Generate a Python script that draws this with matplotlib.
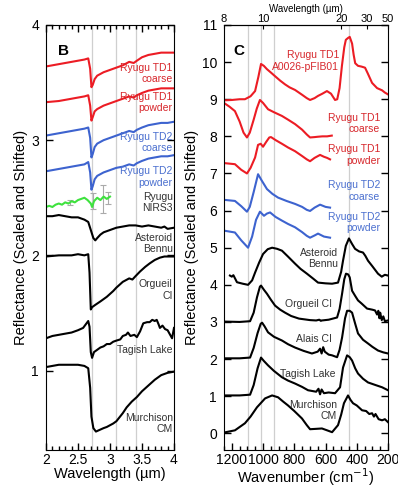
import numpy as np
import matplotlib
matplotlib.use("Agg")
import matplotlib.pyplot as plt
from matplotlib.ticker import MultipleLocator

plt.rcParams['font.family'] = ['Liberation Sans', 'DejaVu Sans']

RED = '#ec1c24'
RED_TXT = '#d7262b'
BLUE = '#3d63cf'
BLUE_TXT = '#4a6fcf'
GREEN = '#3ee23e'
TXT = '#333333'
GRID = '#cfcfcf'

# ---------------- panel B data (wavelength, um) ----------------
b_td1c_x = [2.0, 2.2, 2.4, 2.6, 2.66, 2.69, 2.71, 2.73, 2.76, 2.8, 2.9, 3.0, 3.1, 3.2, 3.3, 3.37, 3.42, 3.5, 3.6, 3.7, 3.8, 3.9, 4.0]
b_td1c_y = [3.64, 3.66, 3.68, 3.70, 3.71, 3.62, 3.46, 3.48, 3.53, 3.56, 3.59, 3.61, 3.63, 3.65, 3.68, 3.67, 3.69, 3.72, 3.74, 3.75, 3.76, 3.76, 3.76]
b_td1p_x = b_td1c_x
b_td1p_y = [3.33, 3.34, 3.36, 3.38, 3.39, 3.30, 3.17, 3.20, 3.25, 3.27, 3.30, 3.32, 3.34, 3.36, 3.38, 3.37, 3.39, 3.41, 3.43, 3.44, 3.45, 3.45, 3.45]
b_td2c_x = b_td1c_x
b_td2c_y = [3.04, 3.06, 3.08, 3.10, 3.11, 3.02, 2.85, 2.88, 2.94, 2.97, 3.00, 3.02, 3.04, 3.06, 3.08, 3.07, 3.09, 3.11, 3.13, 3.14, 3.15, 3.15, 3.16]
b_td2p_x = b_td1c_x
b_td2p_y = [2.73, 2.75, 2.77, 2.79, 2.81, 2.72, 2.57, 2.60, 2.66, 2.69, 2.72, 2.74, 2.76, 2.77, 2.79, 2.78, 2.80, 2.82, 2.84, 2.85, 2.86, 2.86, 2.87]

b_nirs_x = [2.00, 2.05, 2.10, 2.15, 2.20, 2.25, 2.30, 2.35, 2.40, 2.45, 2.50, 2.55, 2.60, 2.65, 2.70, 2.72, 2.75, 2.80, 2.85, 2.90, 2.95, 3.00]
b_nirs_y = [2.42, 2.43, 2.42, 2.44, 2.45, 2.44, 2.46, 2.45, 2.47, 2.46, 2.48, 2.49, 2.50, 2.48, 2.45, 2.42, 2.47, 2.50, 2.48, 2.51, 2.49, 2.51]
b_err_x = [2.38, 2.73, 2.89, 2.97]
b_err_y = [2.46, 2.47, 2.49, 2.50]
b_err = [0.02, 0.07, 0.12, 0.05]

b_bennu_x = [2.0, 2.1, 2.2, 2.3, 2.4, 2.5, 2.6, 2.66, 2.70, 2.74, 2.77, 2.80, 2.85, 2.9, 3.0, 3.1, 3.2, 3.3, 3.4, 3.5, 3.6, 3.7, 3.8, 3.85, 3.9, 4.0]
b_bennu_y = [2.34, 2.34, 2.35, 2.34, 2.33, 2.33, 2.31, 2.29, 2.22, 2.15, 2.13, 2.15, 2.18, 2.20, 2.22, 2.24, 2.25, 2.26, 2.26, 2.25, 2.26, 2.25, 2.24, 2.25, 2.23, 2.24]
b_org_x = [2.0, 2.2, 2.4, 2.5, 2.6, 2.66, 2.68, 2.70, 2.72, 2.77, 2.85, 2.95, 3.05, 3.1, 3.2, 3.3, 3.35, 3.4, 3.47, 3.55, 3.62, 3.7, 3.78, 3.85, 4.0]
b_org_y = [1.99, 2.00, 2.00, 2.01, 2.00, 2.01, 1.85, 1.53, 1.55, 1.57, 1.60, 1.64, 1.69, 1.72, 1.77, 1.80, 1.79, 1.82, 1.86, 1.90, 1.93, 1.96, 1.98, 1.99, 1.99]
b_tag_x = [2.0, 2.1, 2.2, 2.3, 2.4, 2.5, 2.58, 2.62, 2.66, 2.68, 2.70, 2.72, 2.75, 2.8, 2.85, 2.9, 2.95, 3.0, 3.05, 3.1, 3.16, 3.2, 3.25, 3.28, 3.32, 3.38, 3.42, 3.47, 3.52, 3.58, 3.62, 3.66, 3.70, 3.73, 3.76, 3.78, 3.82, 3.86, 3.9, 3.94, 3.97, 4.0]
b_tag_y = [1.28, 1.30, 1.31, 1.32, 1.33, 1.35, 1.37, 1.40, 1.43, 1.38, 1.16, 1.11, 1.16, 1.18, 1.20, 1.21, 1.23, 1.23, 1.25, 1.26, 1.27, 1.30, 1.31, 1.33, 1.30, 1.31, 1.29, 1.34, 1.41, 1.42, 1.42, 1.44, 1.43, 1.44, 1.40, 1.37, 1.39, 1.36, 1.35, 1.31, 1.28, 1.37]
b_mur_x = [2.0, 2.1, 2.2, 2.3, 2.4, 2.5, 2.6, 2.66, 2.69, 2.71, 2.74, 2.78, 2.82, 2.9, 2.95, 3.05, 3.1, 3.2, 3.26, 3.34, 3.42, 3.5, 3.6, 3.7, 3.8, 3.9, 4.0]
b_mur_y = [1.03, 1.04, 1.05, 1.05, 1.05, 1.05, 1.04, 1.02, 0.85, 0.60, 0.50, 0.47, 0.48, 0.50, 0.51, 0.54, 0.56, 0.63, 0.68, 0.73, 0.77, 0.82, 0.87, 0.92, 0.96, 0.98, 0.99]

b_vlines = [2.72, 3.1, 3.4]

# ---------------- panel C data (wavenumber, cm-1) ----------------
c_fib_x = [1250, 1200, 1150, 1116, 1080, 1051, 1030, 1013, 995, 975, 950, 923, 890, 859, 830, 795, 750, 720, 699, 670, 648, 620, 591, 565, 539, 525, 510, 495, 480, 470, 456, 445, 430, 420, 410, 392, 370, 347, 330, 302, 270, 238, 220, 200]
c_fib_y = [8.97, 8.98, 9.0, 9.0, 9.08, 9.22, 9.6, 9.95, 9.9, 9.81, 9.72, 9.62, 9.5, 9.4, 9.32, 9.25, 9.12, 9.03, 8.98, 9.03, 9.09, 9.15, 9.22, 9.15, 8.98, 9.0, 9.3, 9.9, 10.4, 10.6, 10.65, 10.68, 10.5, 10.2, 9.97, 9.9, 9.88, 9.85, 9.7, 9.44, 9.3, 9.24, 9.18, 9.13]
c_td1c_x = [1250, 1215, 1180, 1150, 1125, 1103, 1085, 1060, 1040, 1020, 1000, 968, 930, 879, 840, 795, 750, 720, 699, 670, 648, 620, 590, 560]
c_td1c_y = [8.9, 8.8, 8.68, 8.4, 8.1, 7.97, 8.1, 8.45, 8.75, 8.98, 8.9, 8.73, 8.65, 8.55, 8.45, 8.33, 8.18, 8.05, 7.97, 7.98, 7.99, 8.0, 8.0, 8.02]
c_td1p_x = [1250, 1180, 1140, 1103, 1080, 1051, 1032, 1015, 1000, 980, 960, 949, 920, 879, 840, 795, 750, 720, 699, 670, 635, 610, 590, 571]
c_td1p_y = [7.28, 7.25, 7.1, 7.0, 7.15, 7.43, 7.77, 7.8, 7.72, 7.85, 7.97, 7.98, 7.9, 7.8, 7.7, 7.6, 7.47, 7.38, 7.33, 7.42, 7.5, 7.45, 7.42, 7.38]
c_td2c_x = [1250, 1180, 1140, 1103, 1085, 1060, 1032, 1010, 975, 940, 904, 850, 795, 750, 720, 699, 670, 635, 600, 571]
c_td2c_y = [6.29, 6.26, 6.12, 5.97, 6.1, 6.5, 6.98, 6.82, 6.58, 6.45, 6.35, 6.26, 6.18, 6.1, 6.02, 5.99, 6.08, 6.16, 6.1, 6.08]
c_td2p_x = [1250, 1180, 1140, 1096, 1070, 1045, 1020, 994, 975, 955, 920, 879, 840, 795, 750, 720, 699, 670, 648, 610, 571]
c_td2p_y = [5.46, 5.41, 5.2, 5.0, 5.3, 5.75, 5.97, 5.86, 5.92, 5.95, 5.83, 5.73, 5.64, 5.55, 5.42, 5.32, 5.27, 5.33, 5.38, 5.3, 5.27]

c_bennu_x = [1212, 1200, 1190, 1167, 1130, 1096, 1070, 1051, 1025, 1000, 970, 942, 910, 879, 840, 795, 760, 719, 680, 648, 600, 558, 520, 500, 488, 470, 450, 430, 411, 385, 360, 345, 328, 300, 264, 240, 220, 200]
c_bennu_y = [4.25, 4.22, 4.26, 4.07, 4.03, 4.0, 4.12, 4.33, 4.6, 4.83, 4.96, 5.0, 4.97, 4.92, 4.76, 4.57, 4.43, 4.3, 4.17, 4.06, 4.04, 4.03, 4.06, 4.35, 4.65, 5.05, 5.25, 5.1, 4.97, 4.9, 4.87, 4.78, 4.65, 4.5, 4.3, 4.22, 4.27, 4.25]
c_org_x = [1250, 1150, 1083, 1060, 1039, 1020, 1013, 995, 975, 950, 923, 890, 859, 820, 770, 700, 660, 640, 630, 623, 580, 526, 510, 494, 480, 469, 455, 445, 430, 410, 392, 370, 334, 300, 283, 270, 262, 255, 250, 240, 230, 220, 200]
c_org_y = [3.01, 3.0, 3.02, 3.25, 3.66, 3.95, 3.98, 3.87, 3.76, 3.6, 3.44, 3.33, 3.25, 3.16, 3.09, 3.05, 3.04, 3.06, 3.03, 3.04, 3.06, 3.12, 3.35, 3.76, 4.15, 4.3, 4.28, 4.2, 3.84, 3.7, 3.58, 3.5, 3.36, 3.33, 3.31, 3.2, 3.3, 3.1, 3.25, 3.05, 3.15, 3.02, 3.04]
c_ala_x = [1250, 1150, 1083, 1060, 1035, 1015, 1006, 990, 968, 930, 879, 840, 795, 740, 687, 650, 635, 625, 615, 605, 580, 558, 526, 510, 494, 475, 462, 445, 430, 410, 392, 360, 328, 300, 264, 230, 200]
c_ala_y = [2.02, 2.02, 2.04, 2.3, 2.7, 2.95, 2.98, 2.88, 2.72, 2.6, 2.5, 2.4, 2.31, 2.22, 2.15, 2.2, 2.28, 2.15, 2.32, 2.2, 2.12, 2.10, 2.05, 2.25, 2.58, 3.1, 3.3, 3.3, 3.25, 2.95, 2.69, 2.52, 2.42, 2.33, 2.23, 2.18, 2.15]
c_tag_x = [1250, 1150, 1083, 1060, 1035, 1013, 995, 968, 930, 879, 840, 795, 750, 712, 660, 645, 635, 625, 610, 580, 539, 507, 488, 462, 445, 430, 410, 392, 360, 328, 280, 238, 200]
c_tag_y = [1.02, 1.02, 1.04, 1.3, 1.75, 2.04, 1.95, 1.83, 1.68, 1.51, 1.42, 1.34, 1.25, 1.16, 1.12, 1.2, 1.05, 1.18, 1.08, 1.1, 1.08, 1.24, 1.77, 2.1, 2.05, 1.96, 1.75, 1.61, 1.47, 1.37, 1.3, 1.24, 1.16]
c_mur_x = [1250, 1180, 1116, 1080, 1039, 987, 942, 904, 870, 840, 800, 751, 720, 699, 660, 623, 590, 558, 520, 500, 482, 456, 440, 424, 400, 366, 340, 320, 302, 290, 280, 260, 238, 220, 200]
c_mur_y = [0.02, 0.08, 0.27, 0.45, 0.70, 0.94, 1.02, 0.97, 0.85, 0.75, 0.6, 0.40, 0.22, 0.11, 0.12, 0.13, 0.08, 0.03, 0.22, 0.5, 0.81, 1.02, 0.9, 0.81, 0.75, 0.62, 0.6, 0.52, 0.54, 0.45, 0.52, 0.38, 0.35, 0.38, 0.30]

c_vlines = [1095, 1015, 930, 450]
c_top_ticks = [8, 10, 20, 30, 50]

fig = plt.figure(figsize=(3.98, 4.88), dpi=100)
axB = fig.add_axes([46 / 398, 38 / 488, 128 / 398, 425 / 488])
axC = fig.add_axes([224 / 398, 38 / 488, 164 / 398, 425 / 488])

LW = 1.5
fs = 7.5

# ---- panel B ----
for v in b_vlines:
    axB.axvline(v, color=GRID, lw=0.9, zorder=0)
axB.plot(b_td1c_x, b_td1c_y, color=RED, lw=LW)
axB.plot(b_td1p_x, b_td1p_y, color=RED, lw=LW)
axB.plot(b_td2c_x, b_td2c_y, color=BLUE, lw=LW)
axB.plot(b_td2p_x, b_td2p_y, color=BLUE, lw=LW)
axB.errorbar(b_err_x, b_err_y, yerr=b_err, fmt='none', ecolor='#aaaaaa', elinewidth=0.8, capsize=2, capthick=0.8)
axB.plot(b_nirs_x, b_nirs_y, color=GREEN, lw=LW)
for xs, ys in [(b_bennu_x, b_bennu_y), (b_org_x, b_org_y), (b_tag_x, b_tag_y), (b_mur_x, b_mur_y)]:
    axB.plot(xs, ys, color='black', lw=LW)

axB.set_xlim(2, 4)
axB.set_ylim(0.31, 4)
axB.xaxis.set_major_locator(MultipleLocator(0.5))
axB.xaxis.set_minor_locator(MultipleLocator(0.1))
axB.yaxis.set_major_locator(MultipleLocator(1))
axB.xaxis.set_major_formatter(plt.FuncFormatter(lambda v, p: f"{v:g}"))
axB.tick_params(which='both', direction='in', top=True, right=True, labelsize=10)
axB.tick_params(axis='x', pad=2)
axB.tick_params(axis='y', pad=5)
axB.tick_params(which='major', length=5, width=1)
axB.tick_params(which='minor', length=3, width=1)
axB.set_xlabel('Wavelength (µm)', fontsize=10.5, labelpad=0)
axB.set_ylabel('Reflectance (Scaled and Shifted)', fontsize=10.5, labelpad=2)
axB.text(0.09, 0.955, 'B', transform=axB.transAxes, fontsize=11, fontweight='bold', va='top', ha='left')

xr = 3.98
axB.text(xr, 3.58, 'Ryugu TD1\ncoarse', color=RED_TXT, fontsize=fs, ha='right', va='center', linespacing=1.15)
axB.text(xr, 3.33, 'Ryugu TD1\npowder', color=RED_TXT, fontsize=fs, ha='right', va='center', linespacing=1.15)
axB.text(xr, 2.98, 'Ryugu TD2\ncoarse', color=BLUE_TXT, fontsize=fs, ha='right', va='center', linespacing=1.15)
axB.text(xr, 2.68, 'Ryugu TD2\npowder', color=BLUE_TXT, fontsize=fs, ha='right', va='center', linespacing=1.15)
axB.text(xr, 2.46, 'Ryugu\nNIRS3', color=TXT, fontsize=fs, ha='right', va='center', linespacing=1.15)
axB.text(xr, 2.10, 'Asteroid\nBennu', color=TXT, fontsize=fs, ha='right', va='center', linespacing=1.15)
axB.text(xr, 1.70, 'Orgueil\nCI', color=TXT, fontsize=fs, ha='right', va='center', linespacing=1.15)
axB.text(xr, 1.18, 'Tagish Lake', color=TXT, fontsize=fs, ha='right', va='center')
axB.text(xr, 0.54, 'Murchison\nCM', color=TXT, fontsize=fs, ha='right', va='center', linespacing=1.15)

# ---- panel C ----
for v in c_vlines:
    axC.axvline(v, color=GRID, lw=0.9, zorder=0)
axC.plot(c_fib_x, c_fib_y, color=RED, lw=LW)
axC.plot(c_td1c_x, c_td1c_y, color=RED, lw=LW)
axC.plot(c_td1p_x, c_td1p_y, color=RED, lw=LW)
axC.plot(c_td2c_x, c_td2c_y, color=BLUE, lw=LW)
axC.plot(c_td2p_x, c_td2p_y, color=BLUE, lw=LW)
for xs, ys in [(c_bennu_x, c_bennu_y), (c_org_x, c_org_y), (c_ala_x, c_ala_y), (c_tag_x, c_tag_y), (c_mur_x, c_mur_y)]:
    axC.plot(xs, ys, color='black', lw=LW)

axC.set_xlim(1250, 200)
axC.set_ylim(-0.45, 11)
axC.xaxis.set_major_locator(MultipleLocator(200))
axC.xaxis.set_minor_locator(MultipleLocator(50))
axC.yaxis.set_major_locator(MultipleLocator(1))
axC.tick_params(which='both', direction='in', top=False, right=True, labelsize=10)
axC.tick_params(axis='x', pad=2)
axC.tick_params(axis='y', pad=5)
axC.tick_params(which='major', length=5, width=1)
axC.tick_params(which='minor', length=3, width=1)
axC.set_xlabel('Wavenumber (cm$^{-1}$)', fontsize=10.5, labelpad=0)
axC.set_ylabel('Reflectance (Scaled and Shifted)', fontsize=10.5, labelpad=2)
axC.text(0.055, 0.955, 'C', transform=axC.transAxes, fontsize=11, fontweight='bold', va='top', ha='left')


def wn2um(x):
    x = np.asarray(x, dtype=float)
    with np.errstate(divide='ignore'):
        return 1e4 / x


sec = axC.secondary_xaxis('top', functions=(wn2um, wn2um))
sec.set_xticks(c_top_ticks)
sec.set_xticklabels([str(t) for t in c_top_ticks])
sec.tick_params(direction='in', length=3, labelsize=8, pad=1)
sec.xaxis.set_minor_locator(plt.NullLocator())
sec.set_xlabel('Wavelength (µm)', fontsize=7, labelpad=1)

axC.text(514, 10.03, 'Ryugu TD1\nA0026-pFIB01', color=RED_TXT, fontsize=fs, ha='right', va='center', linespacing=1.15)
xc = 252
axC.text(xc, 8.35, 'Ryugu TD1\ncoarse', color=RED_TXT, fontsize=fs, ha='right', va='center', linespacing=1.15)
axC.text(xc, 7.50, 'Ryugu TD1\npowder', color=RED_TXT, fontsize=fs, ha='right', va='center', linespacing=1.15)
axC.text(xc, 6.53, 'Ryugu TD2\ncoarse', color=BLUE_TXT, fontsize=fs, ha='right', va='center', linespacing=1.15)
axC.text(xc, 5.67, 'Ryugu TD2\npowder', color=BLUE_TXT, fontsize=fs, ha='right', va='center', linespacing=1.15)
axC.text(520, 4.70, 'Asteroid\nBennu', color=TXT, fontsize=fs, ha='right', va='center', linespacing=1.15)
axC.text(558, 3.47, 'Orgueil CI', color=TXT, fontsize=fs, ha='right', va='center')
axC.text(558, 2.55, 'Alais CI', color=TXT, fontsize=fs, ha='right', va='center')
axC.text(539, 1.61, 'Tagish Lake', color=TXT, fontsize=fs, ha='right', va='center')
axC.text(526, 0.62, 'Murchison\nCM', color=TXT, fontsize=fs, ha='right', va='center', linespacing=1.15)

fig.savefig('out.png', dpi=100)
